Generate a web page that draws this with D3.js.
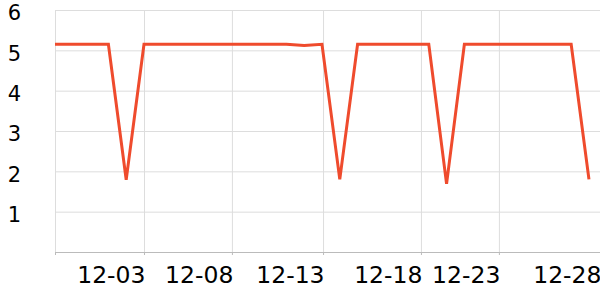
<!DOCTYPE html>
<html>
<head>
<meta charset="utf-8">
<script src="https://cdn.jsdelivr.net/npm/d3@7"></script>
<style>
  body { margin: 0; background: #fff; }
  svg { display: block; font-family: "DejaVu Sans", sans-serif; }
</style>
</head>
<body>
<div id="chart"></div>
<script>

// DATA
let days = d3.range(1, 32).map(d => "12-" + String(d).padStart(2, "0"));

let values = [
    5.15, 5.15, 5.15, 5.15, 1.79, 5.15, 5.15, 5.15, 5.15, 5.15,
    5.15, 5.15, 5.15, 5.15, 5.12, 5.15, 1.80, 5.15, 5.15, 5.15,
    5.15, 5.15, 1.69, 5.15, 5.15, 5.15, 5.15, 5.15, 5.15, 5.15,
    1.80
];

let yTicks = [1, 2, 3, 4, 5, 6];

// tick positions in day-index units
let xTickPos = [5.0, 9.94, 15.06, 20.56, 24.94, 30.62];
let xTickLabels = ["12-03", "12-08", "12-13", "12-18", "12-23", "12-28"];


// CHART AREA
let margin = {top: 10, right: 0, bottom: 48, left: 55},
    width = 600 - margin.left - margin.right,
    height = 300 - margin.top - margin.bottom;

let svg = d3.select("#chart").append("svg")
    .attr("width", width + margin.left + margin.right)
    .attr("height", height + margin.top + margin.bottom)
    .append("g")
    .attr("transform", "translate(" + margin.left + "," + margin.top + ")");

// SCALES
let x = d3.scaleLinear()
    .domain([0, 30.62])
    .range([0, width]);

let y = d3.scaleLinear()
    .domain([0, 6])
    .range([height, 0]);

// ---- GRID ----
svg.append("g")
    .attr("class", "x-grid")
    .attr("transform", "translate(0," + height + ")")
    .call(d3.axisBottom(x).tickValues(xTickPos).tickSize(-height).tickFormat(""))
    .call(g => g.select(".domain").remove())
    .call(g => g.selectAll("line").attr("stroke", "#dddddd"));

let yAxisGroup = svg.append("g")
    .attr("class", "y-axis axis")
    .call(d3.axisLeft(y).tickValues(yTicks).tickFormat(d3.format("d")).tickSize(-width).tickPadding(34));

yAxisGroup.select(".domain").attr("stroke", "#dddddd").attr("d", "M0.5," + y(6) + "V" + height);
yAxisGroup.selectAll("line").attr("stroke", "#dddddd");
yAxisGroup.selectAll("text")
    .attr("dy", "0.46em")
    .attr("font-size", "21px")
    .attr("font-family", "DejaVu Sans")
    .attr("fill", "#000");

// ---- X AXIS ----
let xAxisGroup = svg.append("g")
    .attr("class", "x-axis axis")
    .attr("transform", "translate(0," + height + ")")
    .call(d3.axisBottom(x)
        .tickValues([0].concat(xTickPos))
        .tickSize(3)
        .tickFormat(d => {
            let i = xTickPos.indexOf(d);
            return i < 0 ? "" : xTickLabels[i];
        }));

xAxisGroup.select(".domain").attr("stroke", "#bbbbbb");
xAxisGroup.selectAll("line").attr("stroke", "#bbbbbb");
xAxisGroup.selectAll("text")
    .attr("text-anchor", "end")
    .attr("x", 1)
    .attr("y", 31)
    .attr("dy", 0)
    .attr("font-size", "23.5px")
    .attr("font-family", "DejaVu Sans")
    .attr("fill", "#000");

// ---- LINE ----
let line = d3.line()
    .x((d, i) => x(i))
    .y(d => y(d));

svg.append("path")
    .datum(values)
    .attr("fill", "none")
    .attr("stroke", "#ef4b2d")
    .attr("stroke-width", 3)
    .attr("d", line);

</script>
</body>
</html>
